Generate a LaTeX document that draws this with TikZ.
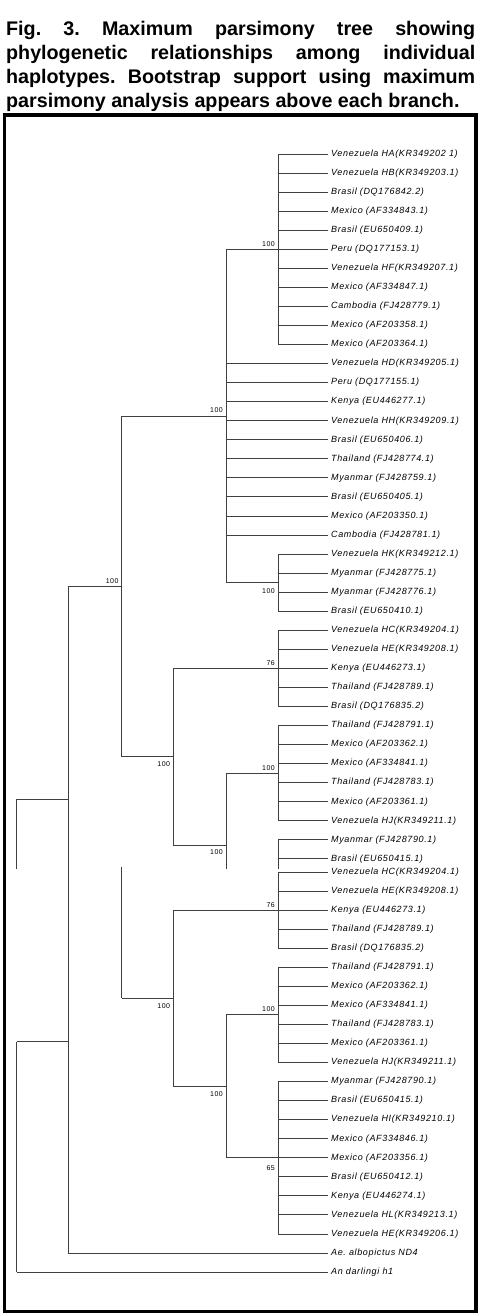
\documentclass[tikz,border=0pt]{standalone}
\usepackage{fontspec}
\setmainfont{Liberation Sans}
\newfontfamily\leaffont[LetterSpace=7]{Liberation Sans}
\newfontfamily\bootfont[LetterSpace=7]{Liberation Sans}
\frenchspacing

\begin{document}
\begin{tikzpicture}[x=1pt, y=-1pt,
    branch/.style={draw=black!75, line width=0.9pt},
    leaf/.style={anchor=west, inner sep=0pt, font=\leaffont\itshape\fontsize{9}{10}\selectfont},
    boot/.style={anchor=east, inner sep=0pt, font=\bootfont\fontsize{7}{8}\selectfont},
    capline/.style={anchor=base west, inner sep=0pt, font=\fontsize{19.7}{23.7}\selectfont\bfseries}
]
\useasboundingbox (0,0) rectangle (482,1314);

% Caption - justified, four lines
\node[capline] (cap1) at (6,36) {\makebox[469pt][s]{Fig. 3. Maximum parsimony tree showing}};
\node[capline] (cap2) at (6,59.7) {\makebox[469pt][s]{phylogenetic relationships among individual}};
\node[capline] (cap3) at (6,83.4) {\makebox[469pt][s]{haplotypes. Bootstrap support using maximum}};
\node[capline] (cap4) at (6,107.1) {parsimony analysis appears above each branch.};

% Frame
\draw[line width=3.5pt] (4.7,115) rectangle (476,1311.5);

% Joints - upper copy of the tree
\coordinate (nA) at (278,249.25);
\coordinate (nB) at (226,416);
\coordinate (nC) at (278,582.6);
\coordinate (nD) at (121.7,586.7);
\coordinate (nE) at (173.3,756.7);
\coordinate (nF) at (278,668.35);
\coordinate (nG) at (226,845);
\coordinate (nH) at (278,773.1);
\coordinate (nI) at (278,839.8);
\coordinate (nJ) at (68.3,799);
\coordinate (rt) at (16.7,799);
\coordinate (cut) at (0,869);
% Joints - lower copy
\coordinate (cut2) at (0,866.7);
\coordinate (nD2) at (121.7,998);
\coordinate (nE2) at (173.3,998);
\coordinate (nF2) at (278,910.1);
\coordinate (nG2) at (226,1086.7);
\coordinate (nH2) at (278,1014.9);
\coordinate (nK) at (278,1157.8);
\coordinate (rt2) at (16.7,1041.7);

% Leaves - upper copy
\foreach \i/\p/\t in {1/nA/{Venezuela HA(KR349202 1)}, 2/nA/{Venezuela HB(KR349203.1)},
    3/nA/{Brasil (DQ176842.2)}, 4/nA/{Mexico (AF334843.1)}, 5/nA/{Brasil (EU650409.1)},
    6/nA/{Peru (DQ177153.1)}, 7/nA/{Venezuela HF(KR349207.1)}, 8/nA/{Mexico (AF334847.1)},
    9/nA/{Cambodia (FJ428779.1)}, 10/nA/{Mexico (AF203358.1)}, 11/nA/{Mexico (AF203364.1)},
    12/nB/{Venezuela HD(KR349205.1)}, 13/nB/{Peru (DQ177155.1)}, 14/nB/{Kenya (EU446277.1)},
    15/nB/{Venezuela HH(KR349209.1)}, 16/nB/{Brasil (EU650406.1)}, 17/nB/{Thailand (FJ428774.1)},
    18/nB/{Myanmar (FJ428759.1)}, 19/nB/{Brasil (EU650405.1)}, 20/nB/{Mexico (AF203350.1)},
    21/nB/{Cambodia (FJ428781.1)}, 22/nC/{Venezuela HK(KR349212.1)}, 23/nC/{Myanmar (FJ428775.1)},
    24/nC/{Myanmar (FJ428776.1)}, 25/nC/{Brasil (EU650410.1)}, 26/nF/{Venezuela HC(KR349204.1)},
    27/nF/{Venezuela HE(KR349208.1)}, 28/nF/{Kenya (EU446273.1)}, 29/nF/{Thailand (FJ428789.1)},
    30/nF/{Brasil (DQ176835.2)}, 31/nH/{Thailand (FJ428791.1)}, 32/nH/{Mexico (AF203362.1)},
    33/nH/{Mexico (AF334841.1)}, 34/nH/{Thailand (FJ428783.1)}, 35/nH/{Mexico (AF203361.1)},
    36/nH/{Venezuela HJ(KR349211.1)}, 37/nI/{Myanmar (FJ428790.1)}, 38/nI/{Brasil (EU650415.1)}} {
    \pgfmathsetmacro{\y}{154+(\i-1)*19.05}
    \coordinate (ta\i) at (328,\y);
    \node[leaf] (la\i) at (331,\y) {\t};
    \draw[branch] (\p |- ta\i) -- (ta\i);
}

% Leaves - lower copy
\foreach \i/\p/\t in {1/nF2/{Venezuela HC(KR349204.1)}, 2/nF2/{Venezuela HE(KR349208.1)},
    3/nF2/{Kenya (EU446273.1)}, 4/nF2/{Thailand (FJ428789.1)}, 5/nF2/{Brasil (DQ176835.2)},
    6/nH2/{Thailand (FJ428791.1)}, 7/nH2/{Mexico (AF203362.1)}, 8/nH2/{Mexico (AF334841.1)},
    9/nH2/{Thailand (FJ428783.1)}, 10/nH2/{Mexico (AF203361.1)}, 11/nH2/{Venezuela HJ(KR349211.1)},
    12/nK/{Myanmar (FJ428790.1)}, 13/nK/{Brasil (EU650415.1)}, 14/nK/{Venezuela HI(KR349210.1)},
    15/nK/{Mexico (AF334846.1)}, 16/nK/{Mexico (AF203356.1)}, 17/nK/{Brasil (EU650412.1)},
    18/nK/{Kenya (EU446274.1)}, 19/nK/{Venezuela HL(KR349213.1)}, 20/nK/{Venezuela HE(KR349206.1)},
    21/nJ/{Ae. albopictus ND4}, 22/rt2/{An darlingi h1}} {
    \pgfmathsetmacro{\y}{872+(\i-1)*19.05}
    \coordinate (tb\i) at (328,\y);
    \node[leaf] (lb\i) at (331,\y) {\t};
    \draw[branch] (\p |- tb\i) -- (tb\i);
}

% Verticals - upper copy
\draw[branch] (nA |- ta1) -- (nA |- ta11);
\draw[branch] (nB |- nA) -- (nB |- nC);
\draw[branch] (nC |- ta22) -- (nC |- ta25);
\draw[branch] (nD |- nB) -- (nD |- nE);
\draw[branch] (nE |- nF) -- (nE |- nG);
\draw[branch] (nF |- ta26) -- (nF |- ta30);
\draw[branch] (nG |- nH) -- (nG |- cut);
\draw[branch] (nH |- ta31) -- (nH |- ta36);
\draw[branch] (nI) -- (nI |- cut);
\draw[branch] (nJ |- nD) -- (nJ |- tb21);
\draw[branch] (rt) -- (rt |- cut);
% Verticals - lower copy
\draw[branch] (nD2 |- cut2) -- (nD2);
\draw[branch] (nE2 |- nF2) -- (nE2 |- nG2);
\draw[branch] (nF2 |- tb1) -- (nF2 |- tb5);
\draw[branch] (nG2 |- nH2) -- (nG2 |- nK);
\draw[branch] (nH2 |- tb6) -- (nH2 |- tb11);
\draw[branch] (nK |- tb12) -- (nK |- tb20);
\draw[branch] (rt2) -- (rt2 |- tb22);

% Horizontals between joints
\draw[branch] (nB |- nA) -- (nA);
\draw[branch] (nB |- nC) -- (nC);
\draw[branch] (nD |- nB) -- (nB);
\draw[branch] (nJ |- nD) -- (nD);
\draw[branch] (nD |- nE) -- (nE);
\draw[branch] (nE |- nF) -- (nF);
\draw[branch] (nE |- nG) -- (nG);
\draw[branch] (nG |- nH) -- (nH);
\draw[branch] (rt) -- (nJ);
\draw[branch] (nD2) -- (nE2);
\draw[branch] (nE2 |- nF2) -- (nF2);
\draw[branch] (nE2 |- nG2) -- (nG2);
\draw[branch] (nG2 |- nH2) -- (nH2);
\draw[branch] (nG2 |- nK) -- (nK);
\draw[branch] (rt2) -- (nJ |- rt2);

% Bootstrap values
\foreach \n/\t/\dy in {nA/100/5.5, nB/100/5.5, nC/100/-8, nD/100/6, nE/100/-7.5, nF/76/5.5,
    nG/100/-7.5, nH/100/5.5, nE2/100/-8.5, nF2/76/5.5, nG2/100/-7.5, nH2/100/5.5, nK/65/-10} {
    \node[boot] (b\n) at ([xshift=-3pt, yshift=\dy pt]\n) {\t};
}

\end{tikzpicture}
\end{document}
